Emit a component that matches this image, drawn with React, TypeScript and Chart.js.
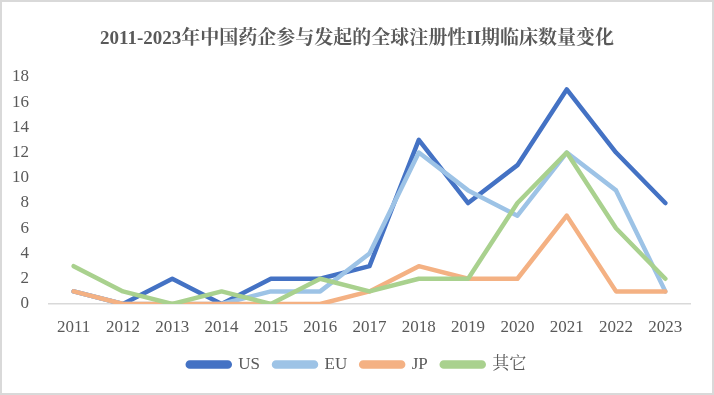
import React, { useEffect, useRef } from "react";
import { Chart, registerables } from "chart.js";

Chart.register(...registerables);

const years = ["2011","2012","2013","2014","2015","2016","2017","2018","2019","2020","2021","2022","2023"];
const usValues = [1,0,2,0,2,2,3,13,8,11,17,12,8];
const euValues = [1,0,0,0,1,1,4,12,9,7,12,9,1];
const jpValues = [1,0,0,0,0,0,1,3,2,2,7,1,1];
const otherValues = [3,1,0,1,0,2,1,2,2,8,12,6,2];
const seriesNames = ["US","EU","JP","其它"];
const seriesColors = ["#4472C4","#9DC3E6","#F4B183","#A9D18E"];
const titleText = "2011-2023年中国药企参与发起的全球注册性II期临床数量变化";

const FONT = "'Liberation Serif', 'Times New Roman', 'Noto Serif CJK SC', 'Noto Sans CJK SC', serif";

export default function App() {
  const ref = useRef<HTMLCanvasElement | null>(null);
  useEffect(() => {
    document.body.style.margin = "0";
    const ctx = ref.current!;
    const all = [usValues, euValues, jpValues, otherValues];
    const chart = new Chart(ctx, {
      type: "line",
      data: {
        labels: years,
        datasets: all.map((vals, i) => ({
          label: seriesNames[i],
          data: vals,
          borderColor: seriesColors[i],
          backgroundColor: seriesColors[i],
          borderWidth: 4.5,
          pointRadius: 0,
          tension: 0,
          order: all.length - i,
          borderJoinStyle: "round" as const,
          borderCapStyle: "round" as const,
        })),
      },
      options: {
        responsive: false,
        animation: false,
        layout: { padding: { left: 0, right: 0, top: 0, bottom: 10 } },
        plugins: {
          title: {
            display: true,
            text: titleText,
            color: "#595959",
            font: { family: FONT, size: 19, weight: "bold" },
            padding: { top: 26, bottom: 26 },
          },
          legend: {
            position: "bottom",
            labels: {
              color: "#595959",
              font: { family: FONT, size: 17 },
              boxWidth: 42,
              boxHeight: 4,
              useBorderRadius: true,
              borderRadius: 2,
              padding: 14,
              sort: (a: any, b: any) => a.datasetIndex - b.datasetIndex,
            },
          },
          tooltip: { enabled: false },
        },
        scales: {
          x: {
            offset: true,
            grid: { display: false },
            border: { display: true, color: "#d9d9d9", width: 1.5 },
            ticks: { color: "#595959", font: { family: FONT, size: 17 }, padding: 5, maxRotation: 0 },
            afterFit: (s: any) => { s.height = 38; },
          },
          y: {
            min: 0,
            max: 18,
            grid: { display: false },
            border: { display: false },
            ticks: { stepSize: 2, color: "#595959", font: { family: FONT, size: 17 }, padding: 12 },
            afterFit: (s: any) => { s.width = 47; },
          },
          yRight: {
            position: "right",
            min: 0,
            max: 18,
            grid: { display: false },
            border: { display: false },
            ticks: { display: false },
            afterFit: (s: any) => { s.width = 22; },
          },
        },
      },
    });
    return () => chart.destroy();
  }, []);
  return (
    <div style={{ width: 714, height: 395, boxSizing: "border-box", border: "2px solid #d9d9d9", background: "#fff", position: "relative" }}>
      <canvas ref={ref} width={710} height={391} style={{ display: "block", width: 710, height: 391 }} />
    </div>
  );
}
